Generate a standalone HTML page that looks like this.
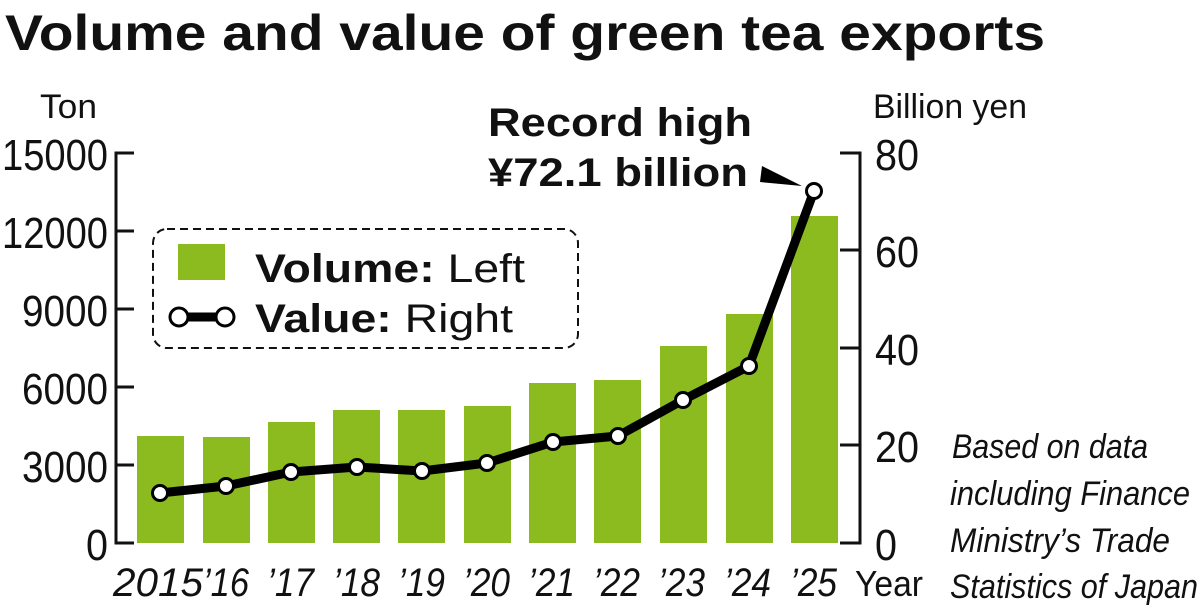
<!DOCTYPE html>
<html><head><meta charset="utf-8"><style>
body{margin:0;background:#fff}
svg{display:block}
text{font-family:"Liberation Sans",sans-serif;fill:#111}
</style></head><body>
<svg width="1200" height="609" viewBox="0 0 1200 609">
<text x="5" y="50" font-size="50" font-weight="bold" textLength="1040" lengthAdjust="spacingAndGlyphs">Volume and value of green tea exports</text>
<text x="40" y="118" font-size="34" textLength="57" lengthAdjust="spacingAndGlyphs">Ton</text>
<text x="873" y="118" font-size="34" textLength="154" lengthAdjust="spacingAndGlyphs">Billion yen</text>
<g font-size="44">
<text x="108" y="170" text-anchor="end" textLength="106" lengthAdjust="spacingAndGlyphs">15000</text>
<text x="108" y="248" text-anchor="end" textLength="106" lengthAdjust="spacingAndGlyphs">12000</text>
<text x="108" y="326" text-anchor="end" textLength="86" lengthAdjust="spacingAndGlyphs">9000</text>
<text x="108" y="404" text-anchor="end" textLength="86" lengthAdjust="spacingAndGlyphs">6000</text>
<text x="108" y="482" text-anchor="end" textLength="86" lengthAdjust="spacingAndGlyphs">3000</text>
<text x="108" y="560" text-anchor="end" textLength="22" lengthAdjust="spacingAndGlyphs">0</text>
<text x="875" y="170" textLength="44" lengthAdjust="spacingAndGlyphs">80</text>
<text x="875" y="267" textLength="44" lengthAdjust="spacingAndGlyphs">60</text>
<text x="875" y="365" textLength="44" lengthAdjust="spacingAndGlyphs">40</text>
<text x="875" y="462" textLength="44" lengthAdjust="spacingAndGlyphs">20</text>
<text x="875" y="560" textLength="22" lengthAdjust="spacingAndGlyphs">0</text>
</g>
<g fill="#8bbb1e">
<rect x="137" y="436" width="47" height="107"/>
<rect x="203" y="437" width="47" height="106"/>
<rect x="268" y="422" width="47" height="121"/>
<rect x="333" y="410" width="47" height="133"/>
<rect x="398" y="410" width="47" height="133"/>
<rect x="464" y="406" width="47" height="137"/>
<rect x="529" y="383" width="47" height="160"/>
<rect x="594" y="380" width="47" height="163"/>
<rect x="660" y="346" width="47" height="197"/>
<rect x="726" y="314" width="47" height="229"/>
<rect x="791" y="216" width="47" height="327"/>
</g>
<g stroke="#111" stroke-width="3" fill="none">
<path d="M134,153H116V543H134"/>
<path d="M116,231H134M116,309H134M116,387H134M116,465H134"/>
<path d="M840,153H860V543H840"/>
<path d="M840,250H860M840,348H860M840,445H860"/>
</g>
<polyline points="160,493 226,486 291,472 357,467 422,471 487,463 553,442 618,436 683,400 749,366 814,191" fill="none" stroke="#000" stroke-width="9" stroke-linejoin="round"/>
<g fill="#fff" stroke="#000" stroke-width="3">
<circle cx="160" cy="493" r="7.5"/><circle cx="226" cy="486" r="7.5"/><circle cx="291" cy="472" r="7.5"/><circle cx="357" cy="467" r="7.5"/><circle cx="422" cy="471" r="7.5"/><circle cx="487" cy="463" r="7.5"/><circle cx="553" cy="442" r="7.5"/><circle cx="618" cy="436" r="7.5"/><circle cx="683" cy="400" r="7.5"/><circle cx="749" cy="366" r="7.5"/><circle cx="814" cy="191" r="7.5"/>
</g>
<polygon points="762,166 760,182 802,186" fill="#000"/>
<text x="488" y="136" font-size="40" font-weight="bold" textLength="264" lengthAdjust="spacingAndGlyphs">Record high</text>
<text x="488" y="186" font-size="40" font-weight="bold" textLength="260" lengthAdjust="spacingAndGlyphs">¥72.1 billion</text>
<rect x="153" y="229" width="425" height="119" rx="14" fill="#fff" stroke="#111" stroke-width="2" stroke-dasharray="8,5"/>
<rect x="178" y="244" width="47" height="36" fill="#8bbb1e"/>
<line x1="179" y1="317" x2="225" y2="317" stroke="#000" stroke-width="9"/>
<circle cx="179" cy="317" r="9" fill="#fff" stroke="#000" stroke-width="3"/>
<circle cx="225" cy="317" r="9" fill="#fff" stroke="#000" stroke-width="3"/>
<text x="255" y="282" font-size="40" textLength="270" lengthAdjust="spacingAndGlyphs"><tspan font-weight="bold">Volume:</tspan> Left</text>
<text x="255" y="332" font-size="40" textLength="258" lengthAdjust="spacingAndGlyphs"><tspan font-weight="bold">Value:</tspan> Right</text>
<g font-size="40" font-style="italic">
<text x="113" y="596" textLength="90" lengthAdjust="spacingAndGlyphs">2015</text>
<text x="203" y="596" textLength="46" lengthAdjust="spacingAndGlyphs">’16</text>
<text x="267" y="596" textLength="47" lengthAdjust="spacingAndGlyphs">’17</text>
<text x="333" y="596" textLength="47" lengthAdjust="spacingAndGlyphs">’18</text>
<text x="398" y="596" textLength="47" lengthAdjust="spacingAndGlyphs">’19</text>
<text x="463" y="596" textLength="47" lengthAdjust="spacingAndGlyphs">’20</text>
<text x="528" y="596" textLength="47" lengthAdjust="spacingAndGlyphs">’21</text>
<text x="593" y="596" textLength="47" lengthAdjust="spacingAndGlyphs">’22</text>
<text x="658" y="596" textLength="47" lengthAdjust="spacingAndGlyphs">’23</text>
<text x="724" y="596" textLength="47" lengthAdjust="spacingAndGlyphs">’24</text>
<text x="790" y="596" textLength="47" lengthAdjust="spacingAndGlyphs">’25</text>
</g>
<text x="855" y="596" font-size="36" textLength="68" lengthAdjust="spacingAndGlyphs">Year</text>
<g font-size="34" font-style="italic">
<text x="952" y="458" textLength="196" lengthAdjust="spacingAndGlyphs">Based on data</text>
<text x="950" y="505" textLength="240" lengthAdjust="spacingAndGlyphs">including Finance</text>
<text x="950" y="552" textLength="220" lengthAdjust="spacingAndGlyphs">Ministry’s Trade</text>
<text x="950" y="598" textLength="248" lengthAdjust="spacingAndGlyphs">Statistics of Japan</text>
</g>
</svg>
</body></html>
